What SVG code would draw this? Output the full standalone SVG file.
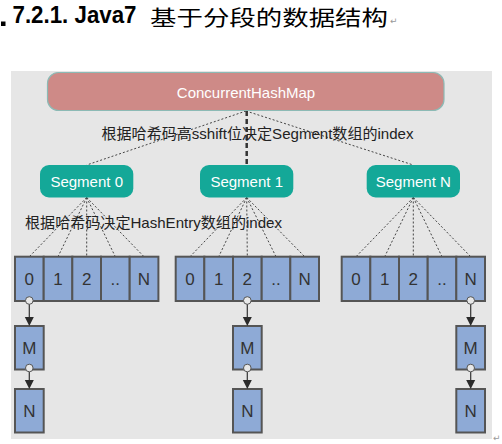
<svg xmlns="http://www.w3.org/2000/svg" width="502" height="444" viewBox="0 0 502 444">
<defs>
<style>
.lbl{font-family:"Liberation Sans","Noto Sans CJK SC",sans-serif;font-size:15px;fill:#222;}
.wt{font-family:"Liberation Sans",sans-serif;font-size:15px;fill:#fff;text-anchor:middle;}
.cell{fill:#8eaad6;stroke:#555;stroke-width:2;}
.ct{font-family:"Liberation Sans",sans-serif;font-size:17px;fill:#333;text-anchor:middle;}
.seg{fill:#14a898;}
.dot{stroke:#444;stroke-width:1;stroke-dasharray:2 2;fill:none;}
.ln{stroke:#333;stroke-width:1.2;fill:none;}
.ring{fill:#e8e8e8;stroke:#555;stroke-width:1;}
.ah{fill:#2a2a2a;}
.pm{font-family:"DejaVu Sans",sans-serif;font-size:9px;fill:#999;}
</style>
</defs>
<rect width="502" height="444" fill="#fff"/>
<!-- title -->
<rect x="1" y="21.5" width="4.5" height="4.5" fill="#000"/>
<text x="12.5" y="22.7" font-family="Liberation Sans,sans-serif" font-weight="bold" font-size="24" fill="#000" textLength="124" lengthAdjust="spacingAndGlyphs">7.2.1. Java7</text>
<text x="150" y="24.5" font-family="Noto Sans CJK SC,sans-serif" font-size="21" fill="#000" textLength="238" lengthAdjust="spacingAndGlyphs">基于分段的数据结构</text>
<text x="390" y="24" class="pm">↵</text>
<!-- background -->
<rect x="11" y="71" width="481" height="368" fill="#e6e6e6"/>
<g id="connectors">
<line class="dot" x1="246" y1="111" x2="86.7" y2="165"/>
<line class="dot" x1="246" y1="111" x2="413.3" y2="165"/>
<line x1="246.7" y1="111" x2="246.7" y2="165" stroke="#333" stroke-width="2.5" stroke-dasharray="5 3"/>
<g>
<line class="dot" x1="86.7" y1="197.5" x2="29.3" y2="256.7"/>
<line class="dot" x1="86.7" y1="197.5" x2="58" y2="256.7"/>
<line class="dot" x1="86.7" y1="197.5" x2="86.7" y2="256.7"/>
<line class="dot" x1="86.7" y1="197.5" x2="115.3" y2="256.7"/>
<line class="dot" x1="86.7" y1="197.5" x2="144" y2="256.7"/>
<line class="dot" x1="246.7" y1="197.5" x2="190" y2="256.7"/>
<line class="dot" x1="246.7" y1="197.5" x2="218.7" y2="256.7"/>
<line class="dot" x1="246.7" y1="197.5" x2="247.3" y2="256.7"/>
<line class="dot" x1="246.7" y1="197.5" x2="276" y2="256.7"/>
<line class="dot" x1="246.7" y1="197.5" x2="304.7" y2="256.7"/>
<line class="dot" x1="413.3" y1="197.5" x2="356" y2="256.7"/>
<line class="dot" x1="413.3" y1="197.5" x2="384.7" y2="256.7"/>
<line class="dot" x1="413.3" y1="197.5" x2="413.3" y2="256.7"/>
<line class="dot" x1="413.3" y1="197.5" x2="442" y2="256.7"/>
<line class="dot" x1="413.3" y1="197.5" x2="470.7" y2="256.7"/>
</g>
</g>
<g id="chm">
<rect x="47.5" y="72.5" width="396.5" height="38" rx="11" fill="#ce8a87" stroke="#8cbab5" stroke-width="1.2"/>
<text x="246" y="97.5" class="wt">ConcurrentHashMap</text>
</g>
<text x="101.5" y="139" class="lbl" textLength="312" lengthAdjust="spacingAndGlyphs">根据哈希码高sshift位决定Segment数组的index</text>
<g id="seg0"><rect class="seg" x="40" y="165" width="93.3" height="32.5" rx="9"/><text x="86.7" y="187" class="wt">Segment 0</text></g>
<g id="seg1"><rect class="seg" x="200" y="165" width="93.3" height="32.5" rx="9"/><text x="246.7" y="187" class="wt">Segment 1</text></g>
<g id="segN"><rect class="seg" x="366.7" y="165" width="93.3" height="32.5" rx="9"/><text x="413.3" y="187" class="wt">Segment N</text></g>
<text x="25" y="228" class="lbl" textLength="257" lengthAdjust="spacingAndGlyphs">根据哈希码决定HashEntry数组的index</text>
<g id="array0">
<rect class="cell" x="15" y="256.7" width="28.7" height="44.3"/><text class="ct" x="29.3" y="285">0</text>
<rect class="cell" x="43.7" y="256.7" width="28.7" height="44.3"/><text class="ct" x="58" y="285">1</text>
<rect class="cell" x="72.3" y="256.7" width="28.7" height="44.3"/><text class="ct" x="86.7" y="285">2</text>
<rect class="cell" x="101" y="256.7" width="28.7" height="44.3"/><text class="ct" x="115.3" y="285">..</text>
<rect class="cell" x="129.7" y="256.7" width="28.7" height="44.3"/><text class="ct" x="144" y="285">N</text>
</g>
<g id="array1">
<rect class="cell" x="175.7" y="256.7" width="28.7" height="44.3"/><text class="ct" x="190" y="285">0</text>
<rect class="cell" x="204.3" y="256.7" width="28.7" height="44.3"/><text class="ct" x="218.7" y="285">1</text>
<rect class="cell" x="233" y="256.7" width="28.7" height="44.3"/><text class="ct" x="247.3" y="285">2</text>
<rect class="cell" x="261.7" y="256.7" width="28.7" height="44.3"/><text class="ct" x="276" y="285">..</text>
<rect class="cell" x="290.3" y="256.7" width="28.7" height="44.3"/><text class="ct" x="304.7" y="285">N</text>
</g>
<g id="arrayN">
<rect class="cell" x="341.7" y="256.7" width="28.7" height="44.3"/><text class="ct" x="356" y="285">0</text>
<rect class="cell" x="370.3" y="256.7" width="28.7" height="44.3"/><text class="ct" x="384.7" y="285">1</text>
<rect class="cell" x="399" y="256.7" width="28.7" height="44.3"/><text class="ct" x="413.3" y="285">2</text>
<rect class="cell" x="427.7" y="256.7" width="28.7" height="44.3"/><text class="ct" x="442" y="285">..</text>
<rect class="cell" x="456.3" y="256.7" width="28.7" height="44.3"/><text class="ct" x="470.7" y="285">N</text>
</g>
<g id="chain0">
<rect class="cell" x="15" y="326" width="28.7" height="43.5"/><text class="ct" x="29.3" y="354">M</text>
<rect class="cell" x="15" y="389" width="28.7" height="43.5"/><text class="ct" x="29.3" y="417">N</text>
</g>
<g id="chain1">
<rect class="cell" x="233" y="326" width="28.7" height="43.5"/><text class="ct" x="247.3" y="354">M</text>
<rect class="cell" x="233" y="389" width="28.7" height="43.5"/><text class="ct" x="247.3" y="417">N</text>
</g>
<g id="chainN">
<rect class="cell" x="456.3" y="326" width="28.7" height="43.5"/><text class="ct" x="470.7" y="354">M</text>
<rect class="cell" x="456.3" y="389" width="28.7" height="43.5"/><text class="ct" x="470.7" y="417">N</text>
</g>
<g id="chain-links">
<g transform="translate(29.3,0)">
<line class="ln" x1="0" y1="304" x2="0" y2="318"/><circle class="ring" cx="0" cy="300.5" r="3.8"/><path class="ah" d="M-4.5,317 L4.5,317 L0,326 Z"/>
<line class="ln" x1="0" y1="372" x2="0" y2="381"/><circle class="ring" cx="0" cy="368" r="3.8"/><path class="ah" d="M-4.5,380 L4.5,380 L0,389 Z"/>
</g>
<g transform="translate(247.3,0)">
<line class="ln" x1="0" y1="304" x2="0" y2="318"/><circle class="ring" cx="0" cy="300.5" r="3.8"/><path class="ah" d="M-4.5,317 L4.5,317 L0,326 Z"/>
<line class="ln" x1="0" y1="372" x2="0" y2="381"/><circle class="ring" cx="0" cy="368" r="3.8"/><path class="ah" d="M-4.5,380 L4.5,380 L0,389 Z"/>
</g>
<g transform="translate(470.7,0)">
<line class="ln" x1="0" y1="304" x2="0" y2="318"/><circle class="ring" cx="0" cy="300.5" r="3.8"/><path class="ah" d="M-4.5,317 L4.5,317 L0,326 Z"/>
<line class="ln" x1="0" y1="372" x2="0" y2="381"/><circle class="ring" cx="0" cy="368" r="3.8"/><path class="ah" d="M-4.5,380 L4.5,380 L0,389 Z"/>
</g>
</g>
<text x="493" y="441" class="pm">↵</text>
</svg>
